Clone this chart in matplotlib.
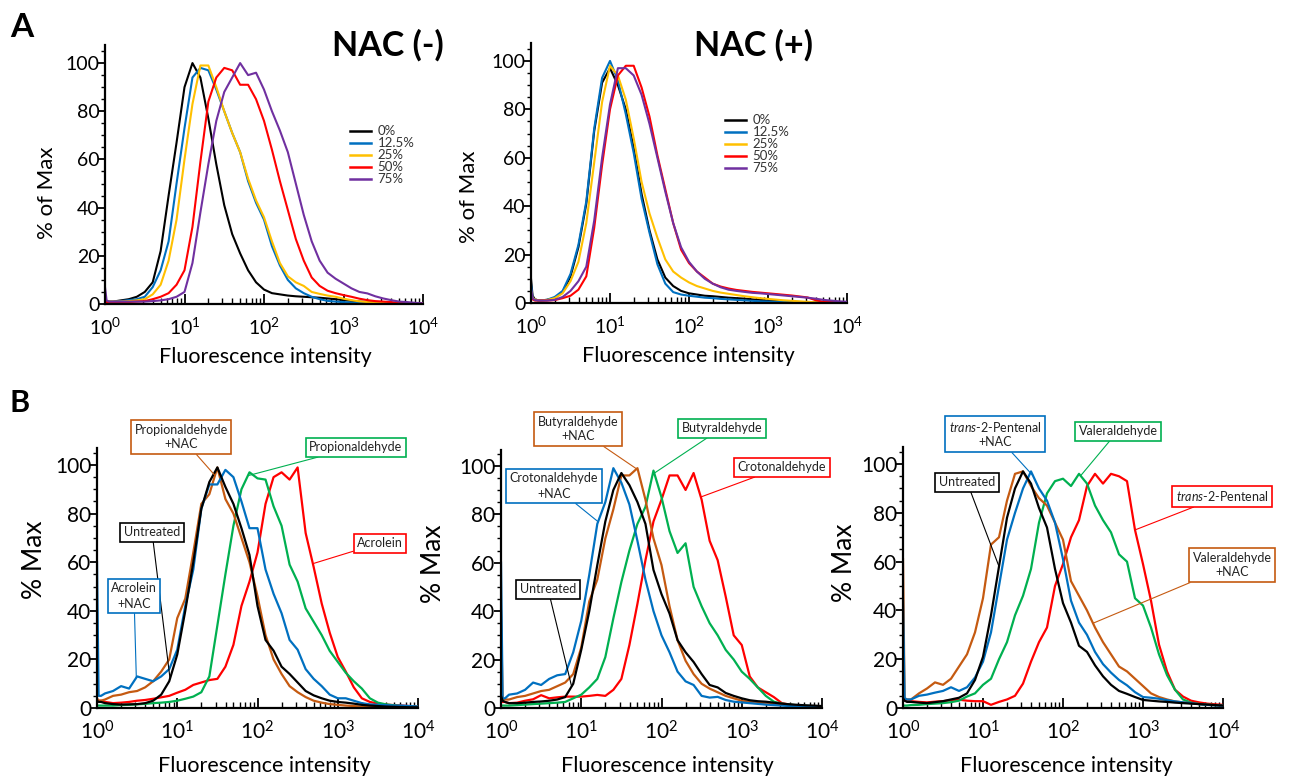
import numpy as np
import matplotlib.pyplot as plt
from matplotlib.ticker import MultipleLocator
from matplotlib.lines import Line2D

plt.rcParams['font.family'] = ['Lato', 'DejaVu Sans']
plt.rcParams['mathtext.fontset'] = 'custom'
plt.rcParams['mathtext.rm'] = 'Lato'
plt.rcParams['mathtext.it'] = 'Lato:italic'

W, H = 1289, 780

# histogram channels, log10 of fluorescence intensity
log_ch = [0.0, 0.02, 0.05,
          0.1, 0.2, 0.3, 0.4, 0.5, 0.6, 0.7, 0.8, 0.9,
          1.0, 1.1, 1.2, 1.3, 1.4, 1.5, 1.6, 1.7, 1.8, 1.9,
          2.0, 2.1, 2.2, 2.3, 2.4, 2.5, 2.6, 2.7, 2.8, 2.9,
          3.0, 3.1, 3.2, 3.3, 3.4, 3.5, 3.6, 3.7, 3.8, 3.9, 4.0]

# ---- A: NAC (-) ----
a1_labels = ['0%', '12.5%', '25%', '50%', '75%']
a1_0 = [1, 1, 1,
        1, 1.5, 2, 3, 5, 9, 22, 45, 67,
        90, 100, 94, 77, 58, 41, 29, 21, 14, 9,
        6, 4.5, 4, 3.5, 3.2, 3, 2.8, 2.6, 2.3, 2,
        1.6, 1.3, 1.0, 0.8, 0.6, 0.4, 0.3, 0.2, 0.2, 0.2, 0.2]
a1_12 = [1, 1, 1,
         1, 1.2, 1.6, 2, 3, 7, 14, 26, 50,
         73, 94, 98, 97, 89, 80, 71, 63, 51, 42,
         35, 24, 16, 10, 6.5, 4.5, 3, 2, 1.3, 1,
         0.8, 0.6, 0.5, 0.4, 0.3, 0.3, 0.3, 0.2, 0.2, 0.2, 0.2]
a1_25 = [1, 1, 1,
         1, 1, 1.2, 1.5, 2, 4, 8, 18, 35,
         60, 83, 99, 99, 90, 80, 71, 63, 52, 43,
         36, 26, 17, 11.5, 9, 7.5, 5, 4.2, 3.5, 3,
         2.2, 1.6, 1.1, 0.8, 0.6, 0.4, 0.3, 0.2, 0.2, 0.2, 0.2]
a1_50 = [0.8, 0.8, 0.8,
         0.8, 0.8, 0.8, 1, 1.2, 2, 3, 4.5, 8,
         14, 32, 59, 84, 94, 98, 97, 91, 91, 85,
         76, 64, 51, 39, 27, 18, 11, 7.5, 5.5, 4.5,
         3.7, 3, 2.2, 1.6, 1.2, 1, 0.8, 0.5, 0.4, 0.3, 0.2]
a1_75 = [7, 1.5, 1,
         1, 1, 1, 1, 1, 1.2, 1.5, 2, 3,
         5, 17, 38, 58, 76, 88, 94, 100, 95, 96,
         89, 80, 72, 63, 50, 37, 26, 18, 13, 10.5,
         8.5, 6.5, 5, 4.4, 3.2, 2.3, 1.6, 1, 0.8, 0.5, 0.3]

# ---- A: NAC (+) ----
a2_0 = [10, 3, 1.5,
        1, 1.3, 2, 4.5, 11, 23, 41, 71, 91,
        97, 90, 80, 64, 45, 30, 18, 10.5, 7, 5,
        4, 3.5, 3, 2.8, 2.5, 2.2, 2, 1.8, 1.5, 1.3,
        1, 0.8, 0.6, 0.5, 0.4, 0.3, 0.3, 0.3, 0.3, 0.3, 0.3]
a2_12 = [8, 2, 1.5,
         1, 1.3, 2.5, 5, 12, 24, 42, 72, 93,
         100, 92, 78, 62, 43, 29, 16, 8, 4.5, 3.5,
         3, 2.6, 2.2, 2, 1.7, 1.5, 1.3, 1.1, 0.9, 0.7,
         0.6, 0.5, 0.4, 0.3, 0.3, 0.3, 0.3, 0.3, 0.3, 0.3, 0.3]
a2_25 = [5, 2, 1.5,
         1, 1.2, 2, 4, 9, 17, 33, 58, 83,
         98, 94, 84, 68, 50, 37, 27, 18, 13, 10.5,
         8.5, 7, 6, 5, 4.3, 3.8, 3.3, 2.8, 2.4, 2,
         1.7, 1.4, 1.1, 0.9, 0.7, 0.5, 0.3, 0.3, 0.3, 0.3, 0.3]
a2_50 = [3, 1.5, 1,
         1, 1, 1.2, 2, 3, 5.5, 11, 31, 57,
         80, 94, 98, 98, 89, 77, 61, 47, 33, 22,
         16.5, 13, 10.5, 8, 6.8, 6, 5.4, 5, 4.6, 4.3,
         4, 3.7, 3.4, 3.1, 2.7, 2.3, 1.2, 0.5, 0.4, 0.3, 0.3]
a2_75 = [6, 2, 1.2,
         1, 1, 1.3, 2.5, 5, 9, 15, 34, 60,
         82, 97, 97, 94, 86, 74, 60, 46, 33, 23,
         17, 13, 10, 8, 6.5, 5.5, 5, 4.6, 4.2, 4,
         3.7, 3.4, 3.1, 2.8, 2.5, 2.2, 1.8, 1.3, 1, 0.7, 0.5]

# ---- B1: acrolein / propionaldehyde ----
b1_untreated = [3, 2.5, 2.5,
                2, 1.6, 1.4, 1.5, 1.6, 2, 3, 5.5, 11,
                22, 40, 60, 82, 93, 99, 91, 84, 74, 63,
                42, 28, 23.6, 17, 14, 10.5, 7, 5.2, 4, 3,
                2.5, 2.2, 1.8, 1.3, 1, 0.8, 0.6, 0.5, 0.4, 0.3, 0.3]
b1_acro_nac = [60, 5, 5,
               6, 7, 9, 8, 13, 12, 11, 13, 16,
               24, 42, 57, 82, 92, 92, 98, 95, 85, 74,
               74, 57, 47, 39, 28, 24, 16, 12, 9, 5.5,
               4, 4, 3, 2, 1.5, 1.3, 1.2, 1, 1, 0.8, 0.6]
b1_prop_nac = [4, 3, 3,
               3.5, 5, 5.5, 6.5, 7, 8.5, 11, 15, 20,
               37, 45, 64, 84, 88, 99, 86, 80, 70, 60,
               46, 30, 20, 14, 9, 6.5, 4.5, 3, 2.2, 1.6,
               1.3, 1, 0.8, 0.6, 0.5, 0.4, 0.4, 0.3, 0.3, 0.3, 0.3]
b1_prop = [1, 1, 1,
           1, 1, 1.2, 1.3, 1.5, 1.7, 2, 2.2, 2.5,
           3, 3.8, 4.7, 6.5, 13, 34, 55, 75, 90, 97,
           94.5, 94, 83, 75, 59, 52, 41, 35.5, 30, 23.5,
           19, 14.5, 11, 8, 4, 2.2, 1.5, 1.1, 0.8, 0.6, 0.5]
b1_acro = [3, 3, 3,
           2.5, 2, 2.2, 2.5, 3, 3.3, 3.8, 4.4, 5,
           6.3, 7.5, 9.5, 10.5, 11.5, 12, 17, 26, 42, 52,
           64, 84, 95, 97, 94, 99, 72, 58, 43, 31,
           21, 15, 8.5, 4, 2.5, 1.8, 1.4, 1.2, 1, 0.8, 0.6]

# ---- B2: crotonaldehyde / butyraldehyde ----
b2_untreated = [5, 3, 2.5,
                2, 2, 2.2, 2.5, 2.7, 3, 3.5, 4.5, 10,
                24, 40, 59, 77, 90, 97, 92, 85, 76, 57,
                47, 39, 28, 23, 19, 14, 9.5, 8.5, 6.2, 5,
                4, 3.2, 2.8, 2.6, 2.2, 1.8, 1.5, 1.3, 1.1, 1, 0.8]
b2_crot_nac = [60, 4, 4,
               5.5, 6, 7.5, 10.5, 9.5, 12, 13.5, 14, 23,
               36, 55, 76, 85, 99, 93, 84, 69, 53, 40,
               30, 23, 15, 11, 9.5, 5, 4.3, 4.6, 3.3, 2.6,
               2.3, 2, 1.7, 1.4, 1.2, 1, 0.8, 0.7, 0.6, 0.5, 0.5]
b2_buty_nac = [40, 3.5, 3.5,
               3.5, 4.5, 5, 6, 7, 7.5, 9, 10.5, 14,
               25, 44, 53, 70, 82, 96, 96, 99, 86, 70,
               59, 42, 28, 19.5, 14, 10, 8, 6.5, 5, 4,
               3, 2.6, 2.2, 2, 1.6, 1.3, 1, 0.8, 0.7, 0.6, 0.5]
b2_buty = [1, 1, 1,
           1, 1.2, 1.4, 1.6, 1.8, 2, 2.2, 2.5, 4,
           5.5, 8.5, 12, 21, 37, 52, 65, 76, 83, 98,
           87, 73, 64, 68, 50, 42, 35, 30, 24, 20,
           15, 12, 8.5, 5, 2.6, 1.8, 1.4, 1.1, 0.9, 0.7, 0.6]
b2_crot = [2.5, 2.5, 2.5,
           2, 2.2, 3, 3.6, 5.3, 4, 4.4, 4.7, 4.7,
           4.7, 5, 5.4, 5, 7.5, 12, 26, 43, 61, 77,
           86, 96, 96, 90, 97, 86, 69, 61, 46, 30,
           26, 13, 8.5, 6.5, 4.5, 2, 1.4, 1, 0.8, 0.7, 0.6]

# ---- B3: trans-2-pentenal / valeraldehyde ----
b3_untreated = [4, 3, 2.5,
                2.5, 2.2, 2, 2.4, 2.8, 3.5, 4.2, 6, 11.5,
                21, 38, 58, 78, 90, 97, 92, 82, 74, 57,
                43, 35, 25.5, 23, 17.5, 13, 9.5, 7, 5.8, 4.5,
                3.3, 3, 2.7, 2.5, 2.2, 2, 1.8, 1.6, 1.4, 1.2, 1]
b3_pent_nac = [44, 4, 3.5,
               3.5, 5, 5.5, 6.3, 7, 8.5, 7, 8.5, 12.5,
               19, 31, 50, 69, 80, 90, 97, 90, 85, 76,
               61, 44, 35, 30, 23, 18, 14.5, 11.5, 9.3, 6.5,
               4.5, 4.2, 3.8, 3.2, 2.7, 2.3, 2, 1.6, 1.3, 1.1, 0.9]
b3_vale_nac = [61, 4, 3.5,
               3.5, 6, 8, 10.5, 9.5, 12, 17, 22, 31,
               45, 67, 70, 85, 96, 97, 91, 86, 83, 76,
               69, 52, 46, 40, 33, 27, 22, 17, 15, 12,
               9, 6, 4.5, 3.5, 2.7, 2.3, 2, 1.7, 1.4, 1.2, 1]
b3_vale = [1, 1, 1,
           1.2, 1.3, 1.6, 1.8, 2, 2.4, 3, 4.7, 6,
           9.5, 12, 20, 27, 38, 46, 57, 76, 88, 93,
           94, 91, 96, 92, 83, 77, 72, 63, 60, 45,
           42, 33, 22, 13.5, 7.5, 3.5, 2.2, 1.6, 1.3, 1.2, 1]
b3_pent = [3.5, 3, 3,
           2.8, 2.5, 2.3, 2.6, 2.8, 3.2, 3.4, 3, 2.8,
           2.8, 1.3, 2.5, 3.5, 5, 10, 19, 27, 33, 50,
           59, 70, 77, 91, 96, 92, 96, 95, 93, 73,
           59, 44, 26, 15, 7.5, 4.7, 3, 2.3, 1.8, 1.5, 1.3]

BLACK = '#000000'
BLUE = '#0070C0'
YELLOW = '#FFC000'
RED = '#FF0000'
PURPLE = '#7030A0'
BROWN = '#C55A11'
GREEN = '#00B050'

x = 10 ** np.array(log_ch)


def make_axes(px_left, px_right, px_bottom, px_top, ymax):
    ax = fig.add_axes([px_left / W, 1 - px_bottom / H,
                       (px_right - px_left) / W, (px_bottom - px_top) / H])
    ax.set_xscale('log')
    ax.set_xlim(1, 1e4)
    ax.set_ylim(0, ymax)
    for s in ['top', 'right']:
        ax.spines[s].set_visible(False)
    for s in ['left', 'bottom']:
        ax.spines[s].set_linewidth(1.6)
    ax.set_yticks([0, 20, 40, 60, 80, 100])
    ax.yaxis.set_minor_locator(MultipleLocator(5))
    return ax


def style_ticks(ax, fs):
    ax.tick_params(axis='x', which='major', direction='in', length=7,
                   width=1.3, labelsize=fs, pad=9)
    ax.tick_params(axis='x', which='minor', direction='in', length=4, width=1.0)
    ax.tick_params(axis='y', which='major', direction='out', length=5,
                   width=1.3, labelsize=fs, pad=-1)
    ax.tick_params(axis='y', which='minor', direction='out', length=3, width=1.0)


fig = plt.figure(figsize=(W / 100, H / 100), dpi=100)

# ---------- panel A ----------
axA1 = make_axes(105, 423, 304, 45, 107.5)
axA2 = make_axes(531, 847, 303, 43, 107.4)
a_colors = [BLACK, BLUE, YELLOW, RED, PURPLE]
for ax, series in [(axA1, [a1_0, a1_12, a1_25, a1_50, a1_75]),
                   (axA2, [a2_0, a2_12, a2_25, a2_50, a2_75])]:
    for ys, c in zip(series, a_colors):
        ax.plot(x, ys, color=c, lw=1.5)
    style_ticks(ax, 14)
    ax.set_ylabel('% of Max', fontsize=16)
    ax.set_xlabel('Fluorescence intensity', fontsize=15.5)

axA1.yaxis.set_label_coords(-0.15, 0.43)
axA1.xaxis.set_label_coords(0.503, -0.165)
axA2.yaxis.set_label_coords(-0.165, 0.41)
axA2.xaxis.set_label_coords(0.497, -0.165)

handles = [Line2D([], [], color=c, lw=1.8) for c in a_colors]
for ax, anchor in [(axA1, (0.77, 0.69)), (axA2, (0.614, 0.725))]:
    ax.legend(handles, a1_labels, loc='upper left', bbox_to_anchor=anchor,
              frameon=False, fontsize=9.5, handlelength=1.6, handletextpad=0.5,
              labelspacing=0.0, borderpad=0, borderaxespad=0,
              labelcolor='#333333')

fig.text(388 / W, 1 - 56 / H, 'NAC (-)', fontsize=24.5, weight='bold',
         ha='center', va='baseline')
fig.text(753 / W, 1 - 56 / H, 'NAC (+)', fontsize=24.5, weight='bold',
         ha='center', va='baseline')
fig.text(10 / W, 1 - 37 / H, 'A', fontsize=24, weight='bold', va='baseline')
fig.text(10 / W, 1 - 412 / H, 'B', fontsize=22, weight='bold', va='baseline')

# ---------- panel B ----------
axB1 = make_axes(97, 418, 708, 448, 107)
axB2 = make_axes(501, 822, 708, 450, 106.5)
axB3 = make_axes(903, 1223, 708, 447, 107)


def label(ax, text, color, log_x, series, cx, cy):
    yt = np.interp(log_x, log_ch, series)
    ax.annotate(text, xy=(10 ** log_x, yt), xycoords='data',
                xytext=(cx, H - cy), textcoords='figure pixels',
                ha='center', va='center', fontsize=9, linespacing=1.3,
                color='#222222',
                bbox=dict(boxstyle='square,pad=0.28', fc='white', ec=color, lw=1.2),
                arrowprops=dict(arrowstyle='-', color=color, lw=0.8,
                                shrinkA=0, shrinkB=0),
                zorder=6)


b_sets = [
    (axB1, [(b1_acro, RED), (b1_prop, GREEN), (b1_prop_nac, BROWN),
            (b1_acro_nac, BLUE), (b1_untreated, BLACK)]),
    (axB2, [(b2_crot, RED), (b2_buty, GREEN), (b2_buty_nac, BROWN),
            (b2_crot_nac, BLUE), (b2_untreated, BLACK)]),
    (axB3, [(b3_pent, RED), (b3_vale, GREEN), (b3_vale_nac, BROWN),
            (b3_pent_nac, BLUE), (b3_untreated, BLACK)]),
]
for ax, curves in b_sets:
    for ys, c in curves:
        ax.plot(x, ys, color=c, lw=1.6)
    style_ticks(ax, 15)
    ax.set_ylabel('% Max', fontsize=19)
    ax.set_xlabel('Fluorescence intensity', fontsize=15.5)

axB1.yaxis.set_label_coords(-0.155, 0.57)
axB1.xaxis.set_label_coords(0.52, -0.185)
axB2.yaxis.set_label_coords(-0.17, 0.56)
axB2.xaxis.set_label_coords(0.517, -0.185)
axB3.yaxis.set_label_coords(-0.145, 0.555)
axB3.xaxis.set_label_coords(0.51, -0.185)

label(axB1, 'Propionaldehyde\n+NAC', BROWN, 1.47, b1_prop_nac, 181, 437)
label(axB1, 'Propionaldehyde', GREEN, 1.88, b1_prop, 356, 447)
label(axB1, 'Untreated', BLACK, 0.91, b1_untreated, 152, 532)
label(axB1, 'Acrolein', RED, 2.69, b1_acro, 380, 543)
label(axB1, 'Acrolein\n+NAC', BLUE, 0.49, b1_acro_nac, 134, 596)

label(axB2, 'Butyraldehyde\n+NAC', BROWN, 1.69, b2_buty_nac, 578, 429)
label(axB2, 'Butyraldehyde', GREEN, 1.89, b2_buty, 722, 428)
label(axB2, 'Crotonaldehyde', RED, 2.49, b2_crot, 782, 467)
label(axB2, 'Crotonaldehyde\n+NAC', BLUE, 1.21, b2_crot_nac, 554, 486)
label(axB2, 'Untreated', BLACK, 0.88, b2_untreated, 548, 589)

label(axB3, '$\\mathit{trans}$-2-Pentenal\n+NAC', BLUE, 1.625, b3_pent_nac, 995, 434)
label(axB3, 'Valeraldehyde', GREEN, 2.22, b3_vale, 1118, 431)
label(axB3, 'Untreated', BLACK, 1.2, b3_untreated, 967, 482)
label(axB3, '$\\mathit{trans}$-2-Pentenal', RED, 2.9, b3_pent, 1222, 496)
label(axB3, 'Valeraldehyde\n+NAC', BROWN, 2.375, b3_vale_nac, 1232, 565)

fig.savefig('out.png', dpi=100)
